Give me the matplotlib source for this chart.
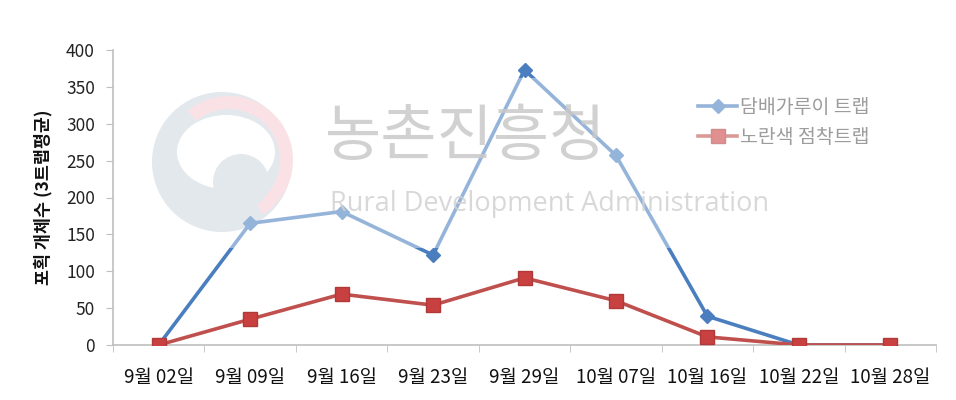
import matplotlib
matplotlib.use("Agg")
import matplotlib.pyplot as plt
from matplotlib.patches import Rectangle, Circle, Wedge, Ellipse

plt.rcParams['font.family'] = ['Noto Sans CJK KR', 'DejaVu Sans']

categories = ["9월 02일", "9월 09일", "9월 16일", "9월 23일", "9월 29일",
              "10월 07일", "10월 16일", "10월 22일", "10월 28일"]
tobacco_trap = [0, 165, 181, 122, 373, 257, 39, 0, 0]
yellow_sticky = [0, 35, 69, 54, 91, 60, 11, 0, 0]
series_names = ["담배가루이 트랩", "노란색 점착트랩"]
yticks = [0, 50, 100, 150, 200, 250, 300, 350, 400]

W, H = 956, 400
fig = plt.figure(figsize=(W / 100, H / 100), dpi=100)
fig.patch.set_facecolor("white")

# background watermark logo (y axis inverted: screen angle = -data angle)
bg = fig.add_axes([0, 0, 1, 1], zorder=0)
bg.set_xlim(0, W); bg.set_ylim(H, 0); bg.axis("off")
gray = "#cfd8e1"
bg.add_patch(Circle((222, 162), 70, color=gray, lw=0, zorder=1))
bg.add_patch(Wedge((229, 160), 64, -130, 58, width=13, color="#f7cdd3", lw=0, zorder=2))
bg.add_patch(Ellipse((226, 152), 98, 74, color="white", lw=0, zorder=3))
bg.add_patch(Circle((241, 182), 28, color=gray, lw=0, zorder=4))

ax = fig.add_axes([113 / W, 1 - 345 / H, (936 - 113) / W, (345 - 50) / H], zorder=1)
ax.patch.set_alpha(0)
x = list(range(len(categories)))
ax.plot(x, tobacco_trap, color="#4a7ebf", lw=2.6, marker="D", ms=7.5,
        mfc="#4a7ebf", mec="#4a7ebf", label=series_names[0], zorder=3)
ax.plot(x, yellow_sticky, color="#c0504d", lw=2.6, marker="s", ms=9.5,
        mfc="#c8403f", mec="#b03a38", label=series_names[1], zorder=4)

ax.set_xlim(-0.5, len(categories) - 0.5)
ax.set_ylim(0, 400)
ax.set_yticks(yticks)
ax.set_yticklabels([str(v) for v in yticks], fontsize=12.5, color="#222222")
ax.set_xticks(x)
ax.set_xticklabels(categories, fontsize=13.5, color="#111111")
ax.set_xticks([i - 0.5 for i in range(len(categories) + 1)], minor=True)
ax.tick_params(axis="x", which="major", length=0, pad=16)
ax.tick_params(axis="x", which="minor", length=5, color="#bfbfbf", direction="out")
ax.tick_params(axis="y", length=5, color="#bfbfbf", pad=8)
for s in ["top", "right"]:
    ax.spines[s].set_visible(False)
for s in ["left", "bottom"]:
    ax.spines[s].set_color("#bfbfbf")
    ax.spines[s].set_linewidth(1.2)

ax.set_ylabel("포획 개체수 (3트랩평균)", fontsize=12.5, fontweight="bold", labelpad=10, color="#111111")

leg = ax.legend(loc="upper left", bbox_to_anchor=(0.69, 0.90), frameon=False,
                fontsize=14, handlelength=2.0, handletextpad=0.15, labelspacing=0.45,
                labelcolor="#555555")

# overlay watermark layer
ov = fig.add_axes([0, 0, 1, 1], zorder=2)
ov.set_xlim(0, W); ov.set_ylim(H, 0); ov.axis("off")
ov.add_patch(Rectangle((150, 78), 750, 170, color="white", alpha=0.42, lw=0))
ov.text(466, 138, "농촌진흥청", fontsize=44, color="#c9c9c9", ha="center", va="center", alpha=0.85)
ov.text(550, 204, "Rural Development Administration", fontsize=19.5, color="#d2d2d2",
        ha="center", va="center", alpha=0.85, family=["Open Sans", "DejaVu Sans"])

fig.savefig("out.png", dpi=100)
